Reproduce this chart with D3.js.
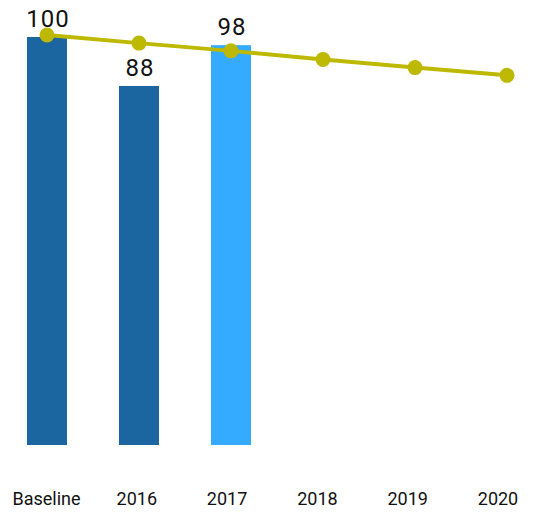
<!DOCTYPE html>
<html>
<head>
<meta charset="utf-8">
<script src="https://cdn.jsdelivr.net/npm/d3@7"></script>
<style>
  body { margin: 0; background: #fff; }
  text { font-family: Roboto, "DejaVu Sans", sans-serif; fill: #111; }
</style>
</head>
<body>
<div id="chart"></div>
<script>
// chart data
var categories = ["Baseline", "2016", "2017", "2018", "2019", "2020"];
var barValues = [100, 88, 98, null, null, null];
var barLabels = ["100", "88", "98", "", "", ""];
var lineValues = [100.5, 98.5, 96.6, 94.5, 92.5, 90.6];

var svgWidth = 533;
var svgHeight = 512;

var svg = d3.select("#chart")
    .append("svg")
    .attr("width", svgWidth)
    .attr("height", svgHeight);

// bar centres
var xScale = d3.scalePoint()
    .domain(categories)
    .range([47, 507]);

// category labels sit on a slightly tighter spacing
var xLabel = d3.scalePoint()
    .domain(categories)
    .range([46.5, 498]);

var yScale = d3.scaleLinear()
    .domain([0, 100])
    .range([445, 37]);

var barWidth = 40;

// bars
svg.selectAll("rect.bar")
    .data(categories.filter((c, i) => barValues[i] != null))
    .enter()
    .append("rect")
    .attr("class", "bar")
    .attr("x", d => xScale(d) - barWidth / 2)
    .attr("y", (d, i) => yScale(barValues[i]))
    .attr("width", barWidth)
    .attr("height", (d, i) => yScale(0) - yScale(barValues[i]))
    .attr("fill", (d, i) => i == 2 ? "#35abff" : "#1b65a1");

// value labels
svg.selectAll("text.value")
    .data(categories.filter((c, i) => barValues[i] != null))
    .enter()
    .append("text")
    .attr("class", "value")
    .attr("x", d => xScale(d) + 1)
    .attr("y", (d, i) => yScale(barValues[i]) - 10)
    .attr("text-anchor", "middle")
    .style("font-size", "24px")
    .style("letter-spacing", "1px")
    .text((d, i) => barLabels[i]);

// target line
var line = d3.line()
    .x((d, i) => xScale(categories[i]))
    .y(d => yScale(d));

svg.append("path")
    .datum(lineValues)
    .attr("d", line)
    .attr("fill", "none")
    .attr("stroke", "#bdb900")
    .attr("stroke-width", 4);

svg.selectAll("circle")
    .data(lineValues)
    .enter()
    .append("circle")
    .attr("cx", (d, i) => xScale(categories[i]))
    .attr("cy", d => yScale(d))
    .attr("r", 7.5)
    .attr("fill", "#bdb900");

// x axis labels
svg.selectAll("text.cat")
    .data(categories)
    .enter()
    .append("text")
    .attr("class", "cat")
    .attr("x", d => xLabel(d))
    .attr("y", 505)
    .attr("text-anchor", "middle")
    .style("font-size", "18px")
    .text(d => d);
</script>
</body>
</html>
